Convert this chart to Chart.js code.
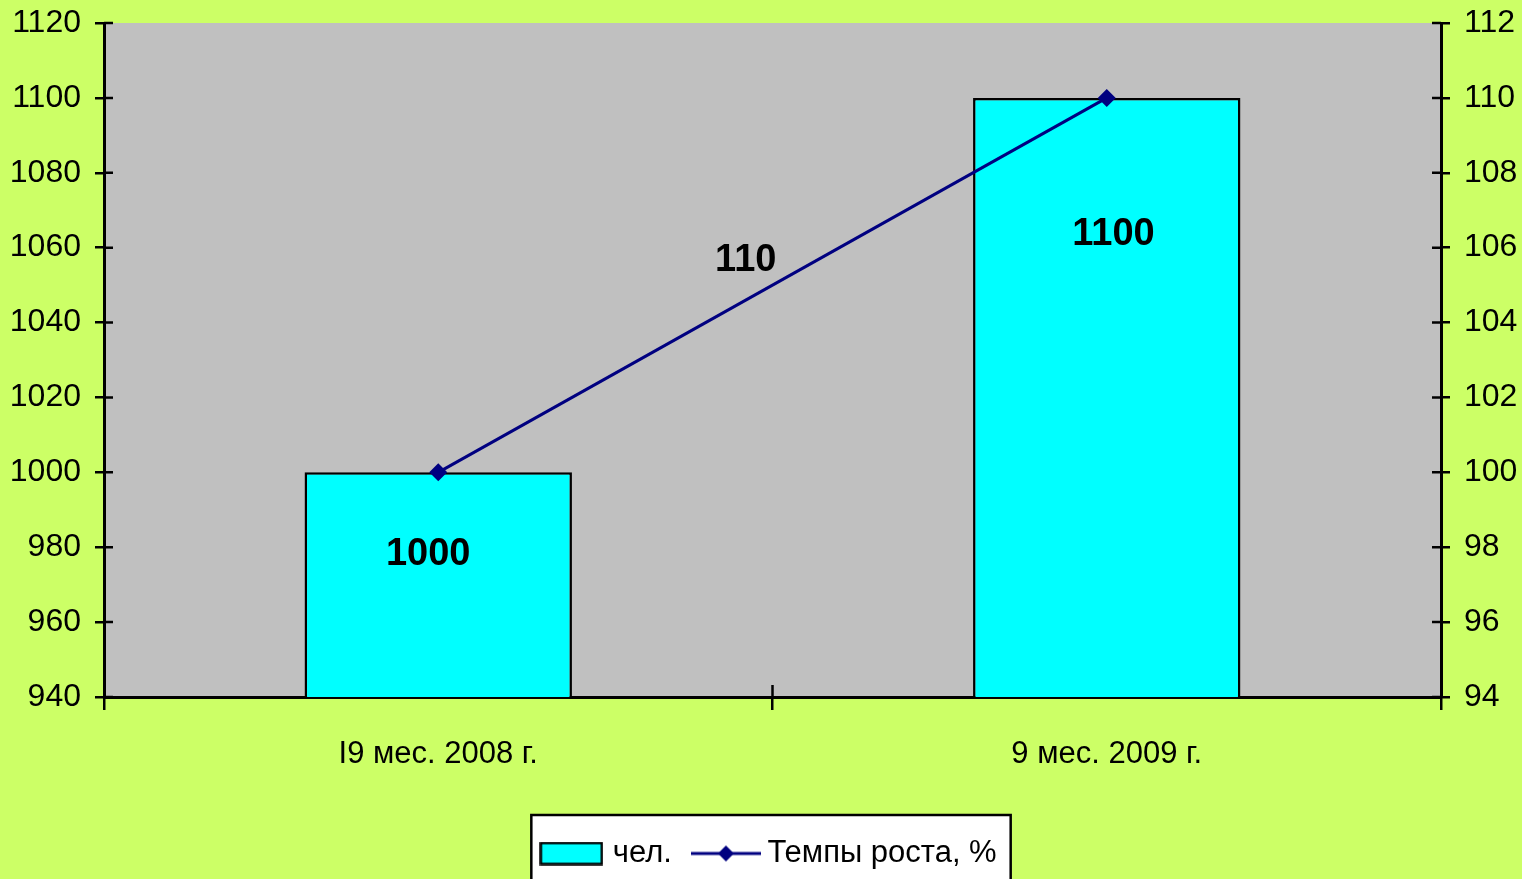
<!DOCTYPE html>
<html>
<head>
<meta charset="utf-8">
<script src="https://cdn.jsdelivr.net/npm/chart.js@4.4.1/dist/chart.umd.min.js"></script>
<style>
  html, body { margin: 0; padding: 0; background: #CCFF66; }
  #wrap { width: 1522px; height: 879px; }
</style>
</head>
<body>
<div id="wrap"><canvas id="myChart"></canvas></div>
<script>
// Datos del gráfico
const categorias = ['I9 мес. 2008 г.', '9 мес. 2009 г.'];
const personas = [1000, 1100];          // чел.
const tempos = [100, 110];              // Темпы роста, %
const etiquetasBarras = ['1000', '1100'];
const posEtiquetasBarras = [978, 1063.5]; // valor del eje izquierdo donde va el texto
const desplazEtiquetasBarras = [-0.015, 0.01]; // desplazamiento en categorías
const etiquetaLinea = '110';
const posEtiquetaLinea = [0.46, 105.65]; // fracción entre categorías, valor eje derecho

const fuente = "'Liberation Sans', Arial, sans-serif";
const navy = '#000080';

// Iconos de la leyenda
function iconoBarra() {
    const c = document.createElement('canvas');
    c.width = 64; c.height = 24;
    const ctx = c.getContext('2d');
    ctx.fillStyle = '#00FFFF';
    ctx.fillRect(1, 1, 62, 22);
    ctx.strokeStyle = '#000';
    ctx.lineWidth = 2.5;
    ctx.strokeRect(1.5, 1.5, 61, 21);
    return c;
}
function iconoLinea() {
    const c = document.createElement('canvas');
    c.width = 70; c.height = 24;
    const ctx = c.getContext('2d');
    ctx.strokeStyle = navy;
    ctx.lineWidth = 3;
    ctx.beginPath(); ctx.moveTo(0, 12); ctx.lineTo(70, 12); ctx.stroke();
    ctx.fillStyle = navy;
    ctx.beginPath();
    ctx.moveTo(35, 4); ctx.lineTo(43, 12); ctx.lineTo(35, 20); ctx.lineTo(27, 12);
    ctx.closePath(); ctx.fill();
    return c;
}
const iconos = [iconoBarra(), iconoLinea()];

// Fondo del área de gráfico y recuadro blanco de la leyenda
const fondoPlugin = {
    id: 'fondo',
    afterLayout(chart) {
        // la leyenda está algo corrida a la derecha en el original
        if (chart.legend) { chart.legend.left += 10; chart.legend.right += 10; }
    },
    beforeDraw(chart) {
        const {ctx, chartArea} = chart;
        ctx.save();
        ctx.fillStyle = '#C0C0C0';
        ctx.fillRect(chartArea.left, chartArea.top, chartArea.right - chartArea.left, chartArea.bottom - chartArea.top);
        const lg = chart.legend;
        if (lg && lg.legendHitBoxes.length) {
            const hb = lg.legendHitBoxes;
            const x0 = hb[0].left - 14;
            const x1 = hb[hb.length - 1].left + hb[hb.length - 1].width + 14;
            const y0 = hb[0].top - 23;
            ctx.fillStyle = '#fff';
            ctx.fillRect(x0, y0, x1 - x0, chart.height);
            ctx.strokeStyle = '#000';
            ctx.lineWidth = 2.5;
            ctx.strokeRect(x0, y0, x1 - x0, chart.height + 10);
        }
        ctx.restore();
    },
    beforeDatasetsDraw(chart) {
        // marcas cruzadas: parte interior de los ticks
        const {ctx, scales} = chart;
        ctx.save();
        ctx.strokeStyle = '#000';
        ctx.lineWidth = 2.5;
        ctx.beginPath();
        scales.y.ticks.forEach((t, i) => {
            const y = scales.y.getPixelForTick(i);
            ctx.moveTo(scales.y.right, y); ctx.lineTo(scales.y.right + 9, y);
        });
        scales.y1.ticks.forEach((t, i) => {
            const y = scales.y1.getPixelForTick(i);
            ctx.moveTo(scales.y1.left, y); ctx.lineTo(scales.y1.left - 9, y);
        });
        const xm = (scales.x.getPixelForValue(0) + scales.x.getPixelForValue(1)) / 2;
        ctx.moveTo(xm, scales.x.top); ctx.lineTo(xm, scales.x.top - 12);
        ctx.stroke();
        ctx.restore();
    }
};

// Etiquetas de datos
const etiquetasPlugin = {
    id: 'etiquetas',
    afterDatasetsDraw(chart) {
        const {ctx, scales} = chart;
        ctx.save();
        ctx.font = 'bold 38px ' + fuente;
        ctx.fillStyle = '#000';
        ctx.textAlign = 'center';
        ctx.textBaseline = 'middle';
        const xa = scales.x.getPixelForValue(0);
        const xb = scales.x.getPixelForValue(1);
        const anchoCat = xb - xa;
        const barras = chart.getDatasetMeta(0).data;
        barras.forEach((b, i) => {
            ctx.fillText(etiquetasBarras[i], b.x + desplazEtiquetasBarras[i] * anchoCat, scales.y.getPixelForValue(posEtiquetasBarras[i]));
        });
        ctx.fillText(etiquetaLinea, xa + anchoCat * posEtiquetaLinea[0], scales.y1.getPixelForValue(posEtiquetaLinea[1]));
        ctx.restore();
    }
};

Chart.defaults.font.family = fuente;
Chart.defaults.color = '#000';

new Chart(document.getElementById('myChart'), {
    data: {
        labels: categorias,
        datasets: [{
            type: 'bar',
            label: 'чел.',
            data: personas,
            yAxisID: 'y',
            backgroundColor: '#00FFFF',
            borderColor: '#000',
            borderWidth: 2.5,
            barPercentage: 0.4,
            categoryPercentage: 1,
            order: 1
        }, {
            type: 'line',
            label: 'Темпы роста, %',
            data: tempos,
            yAxisID: 'y1',
            borderColor: navy,
            backgroundColor: navy,
            borderWidth: 3,
            pointStyle: 'rectRot',
            pointRadius: 9,
            pointBackgroundColor: navy,
            pointBorderWidth: 0,
            order: 0
        }]
    },
    options: {
        responsive: true,
        maintainAspectRatio: false,
        animation: false,
        layout: { padding: { top: 23, bottom: 0, left: 0, right: 0 } },
        plugins: {
            tooltip: { enabled: false },
            legend: {
                position: 'bottom',
                labels: {
                    font: { size: 31 },
                    color: '#000',
                    usePointStyle: true,
                    pointStyleWidth: 52,
                    boxHeight: 24,
                    padding: 28,
                    generateLabels(chart) {
                        return chart.data.datasets.map((ds, i) => ({
                            text: ds.label,
                            pointStyle: iconos[i],
                            datasetIndex: i,
                            fontColor: '#000',
                            lineWidth: 0,
                            hidden: false
                        }));
                    }
                }
            }
        },
        scales: {
            x: {
                offset: true,
                grid: { offset: true, drawOnChartArea: false, color: '#000', lineWidth: 2.5, tickLength: 13 },
                border: { color: '#000', width: 3 },
                ticks: { font: { size: 31 }, padding: 26 },
                afterFit(s) { s.height = 113; }
            },
            y: {
                position: 'left',
                min: 940, max: 1120,
                ticks: { stepSize: 20, font: { size: 32 }, padding: 14, callback: v => String(v) },
                grid: { drawOnChartArea: false, color: '#000', lineWidth: 2.5, tickLength: 9 },
                border: { color: '#000', width: 3 },
                afterFit(s) { s.width = 104; s.paddingTop = 0; s.paddingBottom = 0; }
            },
            y1: {
                position: 'right',
                min: 94, max: 112,
                ticks: { stepSize: 2, font: { size: 32 }, padding: 14, callback: v => String(v) },
                grid: { drawOnChartArea: false, color: '#000', lineWidth: 2.5, tickLength: 9 },
                border: { color: '#000', width: 3 },
                afterFit(s) { s.width = 81; s.paddingTop = 0; s.paddingBottom = 0; }
            }
        }
    },
    plugins: [fondoPlugin, etiquetasPlugin]
});
</script>
</body>
</html>
